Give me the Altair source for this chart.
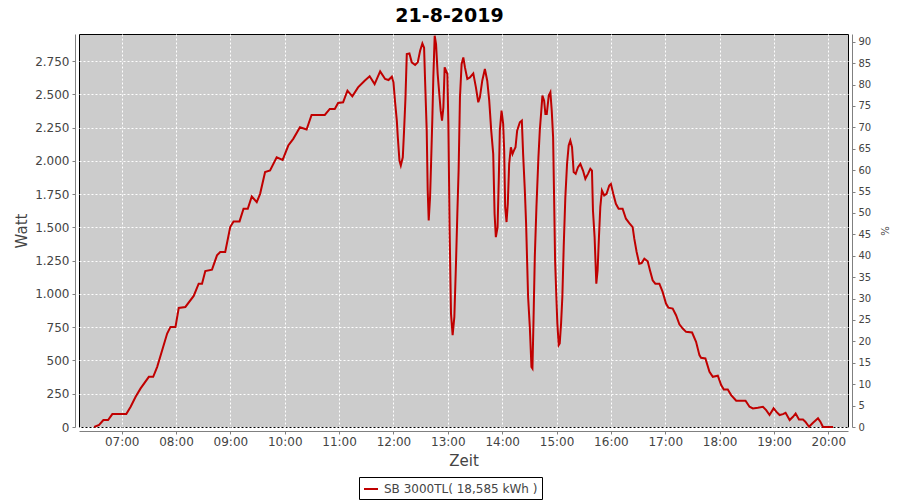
import altair as alt
import pandas as pd

# time of day in minutes after midnight, power in watt
minutes = [
    389.6, 395.1, 399.8, 405.0, 409.7, 425.1, 429.9, 435.4, 440.9, 450.0,
    454.8, 459.2, 464.7, 470.2, 473.9, 479.4, 483.0, 490.3, 499.5, 505.0,
    508.7, 512.3, 519.7, 525.2, 528.8, 534.3, 539.8, 543.5, 550.1, 554.5,
    559.2, 563.6, 569.1, 572.8, 578.3, 583.8, 591.1, 597.7, 603.9, 609.4,
    616.8, 624.1, 629.6, 644.2, 649.7, 655.2, 658.9, 664.4, 669.2, 674.6,
    680.9, 688.2, 693.7, 699.2,
    705.3, 710.8, 714.5, 718.2, 720.0, 721.8, 723.7, 724.8, 726.6, 728.1,
    730.3, 731.7, 733.2, 734.7, 737.6, 740.2, 743.9, 746.8, 749.4, 751.9,
    753.8, 754.9, 756.7, 757.8, 758.9, 760.4, 761.5, 762.9, 764.0, 765.5,
    767.0, 768.8, 770.6, 772.1, 773.6, 775.1, 776.5, 778.0, 779.5, 780.6,
    782.0, 783.5, 785.3, 787.2, 789.0, 790.5, 791.9, 793.4, 795.2, 797.1,
    798.9, 801.5, 804.4, 808.1, 811.0, 813.6, 815.4, 818.0, 820.9, 823.5,
    825.7, 827.9, 830.1, 831.6, 833.0, 834.9, 836.3, 837.4, 839.3, 841.1,
    842.2, 843.3, 844.8, 846.2, 847.7, 849.6, 851.4, 852.9, 854.7, 856.5,
    859.5, 861.7, 863.1, 865.0, 866.4, 867.5, 868.6, 870.5, 872.3, 873.4,
    874.5, 876.0, 877.8, 880.0, 881.5, 882.9, 884.4, 886.3, 887.7, 889.2,
    891.4, 893.2, 894.7, 896.2, 897.3, 898.4, 899.8, 900.9, 902.4, 903.5,
    905.0, 906.4, 907.9, 909.7, 911.6, 913.4, 915.2, 917.1, 918.9, 921.1,
    923.7, 926.3, 929.2, 931.8, 934.7, 937.3, 939.1, 940.2, 942.0, 943.9,
    945.3, 946.8, 948.3, 950.1,
    952.6, 955.2, 958.2, 960.0, 962.6, 965.5, 968.5, 972.9, 976.6, 980.3,
    984.0, 985.8, 988.4, 991.3, 993.9, 996.9, 1000.6, 1003.1, 1006.1, 1009.0,
    1013.5, 1017.1, 1020.8, 1023.4, 1028.2, 1031.9, 1035.6, 1039.3, 1043.0, 1049.6,
    1054.0, 1057.7, 1059.5, 1064.3, 1068.8, 1072.5, 1078.0, 1081.7, 1084.6, 1089.0,
    1092.7, 1098.3, 1108.6, 1113.0, 1116.7, 1122.2, 1127.8, 1131.4, 1135.1, 1139.6,
    1142.5, 1146.2, 1149.9, 1152.8, 1157.3, 1161.0, 1163.9, 1167.6, 1172.0, 1174.6,
    1178.7, 1183.1, 1188.6, 1191.2, 1194.1, 1205.2,
]
watts = [
    0, 15, 52, 52, 97, 97, 152, 227, 290, 377,
    377, 452, 577, 702, 752, 752, 895, 902, 985, 1077,
    1077, 1172, 1182, 1290, 1315, 1315, 1502, 1545, 1545, 1640,
    1640, 1732, 1690, 1752, 1915, 1927, 2027, 2007, 2115, 2165,
    2252, 2235, 2345, 2345, 2390, 2390, 2435, 2440, 2527, 2485,
    2552, 2602, 2635, 2577,
    2672, 2615, 2607, 2632, 2590, 2440, 2302, 2177, 2002, 1965,
    2027, 2227, 2465, 2802, 2807, 2740, 2720, 2740, 2827, 2882,
    2850, 2602, 2227, 1777, 1552, 1727, 1977, 2315, 2627, 2940,
    2877, 2652, 2502, 2377, 2302, 2402, 2702, 2677, 2652, 2277,
    1477, 852, 690, 827, 1227, 1602, 1927, 2477, 2727, 2777,
    2702, 2615, 2627, 2657, 2552, 2440, 2477, 2602, 2690, 2602,
    2452, 2227, 2052, 1602, 1427, 1502, 1877, 2227, 2377, 2277,
    2077, 1652, 1540, 1677, 1977, 2102, 2052, 2077, 2102, 2227,
    2290, 2302, 2052, 1777, 1527, 1252, 977, 752, 452, 440,
    777, 1277, 1652, 2027, 2227, 2352, 2490, 2452, 2352, 2352,
    2490, 2515, 2377, 2177, 1727, 1252, 977, 777, 615, 627,
    777, 977, 1352, 1727, 1977, 2115, 2152, 2102, 1915, 1902,
    1952, 1977, 1927, 1865, 1902, 1940, 1927, 1627, 1427, 1077,
    1177, 1427, 1652, 1777,
    1740, 1752, 1815, 1827, 1752, 1677, 1640, 1640, 1565, 1532,
    1502, 1415, 1315, 1227, 1232, 1265, 1245, 1177, 1102, 1077,
    1077, 1015, 927, 897, 890, 840, 772, 740, 715, 710,
    640, 540, 520, 515, 415, 377, 385, 315, 282, 282,
    240, 197, 197, 152, 140, 145, 152, 127, 90, 140,
    115, 90, 97, 107, 52, 77, 102, 57, 57, 40,
    2, 32, 65, 40, 0, 0,
]
series_name = "SB 3000TL( 18,585 kWh )"
chart_title = ["21-8-2019"]
x_ticks = list(range(420, 1201, 60))          # 07:00 ... 20:00
y_ticks = list(range(0, 2751, 250))
pct_ticks = list(range(0, 91, 5))
pct_range = [0, 90]

df = pd.DataFrame({"min": minutes, "watt": watts, "series": [series_name] * len(minutes)})
pct_df = pd.DataFrame({"pct": pct_range})
title_df = pd.DataFrame({"t": chart_title})

FONT = "DejaVu Sans"
GRAY = "#808080"
LABEL = "#444444"
RED = "#c00000"
W, H = 769, 393

x_axis = alt.Axis(
    values=x_ticks,
    labelExpr="(datum.value < 600 ? '0' : '') + floor(datum.value / 60) + ':00'",
    title="Zeit", offset=4, grid=True, gridColor="white", gridDash=[2, 2],
    gridOpacity=1, gridWidth=1, domainColor=GRAY, tickColor=GRAY, tickSize=3,
    labelColor=LABEL, labelFont=FONT, labelFontSize=12, labelPadding=2,
    titleFont=FONT, titleFontSize=15, titleFontWeight="normal", titleColor=LABEL,
    titlePadding=6, labelFlush=False,
)
y_axis = alt.Axis(
    values=y_ticks,
    labelExpr="replace(format(datum.value, ','), ',', '.')",
    title="Watt", offset=4, grid=True, gridColor="white", gridDash=[2, 2],
    gridOpacity=1, gridWidth=1, domainColor=GRAY, tickColor=GRAY, tickSize=3,
    labelColor=LABEL, labelFont=FONT, labelFontSize=12, labelPadding=3,
    titleFont=FONT, titleFontSize=15, titleFontWeight="normal", titleColor=LABEL,
    titlePadding=5, labelFlush=False,
)
pct_axis = alt.Axis(
    orient="right", values=pct_ticks, title="%", offset=4, grid=False,
    domainColor=GRAY, tickColor=GRAY, tickSize=3,
    labelColor=LABEL, labelFont=FONT, labelFontSize=10, labelPadding=3,
    titleFont=FONT, titleFontSize=10, titleFontWeight="normal", titleColor=LABEL,
    titlePadding=8, titleAngle=90, labelFlush=False,
)

line = alt.Chart(df).mark_line(strokeWidth=2, interpolate="linear").encode(
    x=alt.X("min:Q", scale=alt.Scale(domain=[372.9, 1221.7], nice=False, zero=False), axis=x_axis),
    y=alt.Y("watt:Q", scale=alt.Scale(domain=[0, 2953], nice=False), axis=y_axis),
    color=alt.Color(
        "series:N",
        scale=alt.Scale(range=[RED]),
        legend=alt.Legend(
            orient="none", legendX=280, legendY=443, title=None,
            strokeColor="black", fillColor="white", padding=4,
            symbolType="stroke", symbolSize=196, symbolStrokeWidth=2,
            labelFont=FONT, labelFontSize=12, labelColor=LABEL, labelOffset=5,
        ),
    ),
)

pct_layer = alt.Chart(pct_df).mark_point(opacity=0).encode(
    y=alt.Y("pct:Q", scale=alt.Scale(domain=[0, 91.8], nice=False), axis=pct_axis),
)

title_layer = alt.Chart(title_df).mark_text(
    font=FONT, fontSize=19, fontWeight="bold", color="black",
    align="center", baseline="alphabetic",
).encode(text="t:N", x=alt.value(370.5), y=alt.value(-12))

chart = (
    alt.layer(line, pct_layer, title_layer)
    .resolve_scale(y="independent")
    .properties(
        width=W, height=H,
        autosize=alt.AutoSizeParams(type="none"),
        padding={"left": 71, "top": 26, "right": 44, "bottom": 74},
    )
    .configure(background="white")
    .configure_view(fill="#cccccc", stroke="black", strokeWidth=1)
)

chart.save("out.html", embed_options={"renderer": "svg", "actions": False})
